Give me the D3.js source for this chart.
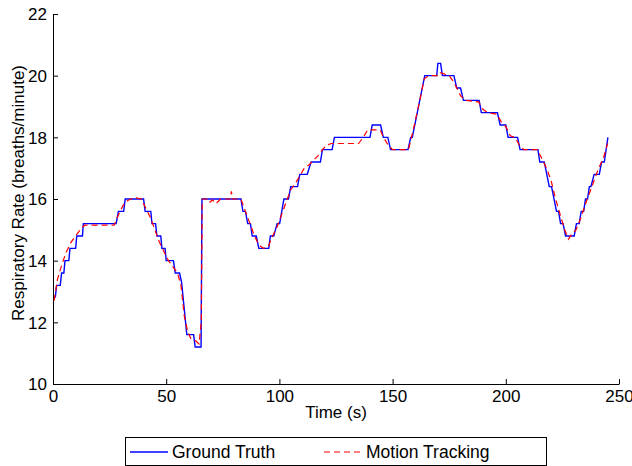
<!DOCTYPE html>
<html>
<head>
<meta charset="utf-8">
<script src="https://cdn.jsdelivr.net/npm/d3@7"></script>
<style>
  body { margin: 0; background: #fff; }
  text { font-family: "Liberation Sans", Arial, sans-serif; }
</style>
</head>
<body>
<div id="container"></div>
<script>
// ground truth: [time, rate]
var groundTruth = [
  [1, 12.8], [1.6, 13.2], [3.2, 13.2], [3.8, 13.6], [4.8, 13.6], [5.3, 14.0], [7, 14.0],
  [7.5, 14.4], [10, 14.4], [10.5, 14.8], [13, 14.8], [13.4, 15.2], [27.9, 15.2], [28.9, 15.6],
  [31.2, 15.6], [31.9, 16.0], [40, 16.0], [40.7, 15.6], [43.2, 15.6], [43.7, 15.2], [45.3, 15.2],
  [45.9, 14.8], [47.6, 14.8], [48.1, 14.4], [49.5, 14.4], [50, 14.0], [53.2, 14.0], [54, 13.6],
  [55.9, 13.6], [56.8, 13.3], [59.1, 11.6], [62.1, 11.6], [62.8, 11.2], [65.4, 11.2], [65.8, 16.0],
  [83, 16.0], [83.9, 15.6], [85, 15.6], [86, 15.2], [87.2, 15.2], [88, 14.8], [89.8, 14.8],
  [90.9, 14.4], [95.3, 14.4], [96, 14.8], [97.5, 14.8], [99, 15.2], [100.1, 15.2], [102, 16.0],
  [104, 16.0], [105, 16.4], [108, 16.4], [109, 16.8], [112.3, 16.8], [114, 17.2], [118.1, 17.2],
  [119, 17.6], [123.3, 17.6], [124.3, 18.0], [140, 18.0], [141, 18.4], [144.7, 18.4], [145.9, 18.0],
  [147.9, 18.0], [149.1, 17.6], [156.8, 17.6], [158, 18.0], [158.7, 18.0], [164.2, 20.0],
  [169.5, 20.0], [170, 20.4], [171.2, 20.4], [172, 20.0], [177.1, 20.0], [178.3, 19.6], [180, 19.6],
  [181.3, 19.2], [188.2, 19.2], [189.2, 18.8], [196.3, 18.8], [197.5, 18.4], [200, 18.4], [201, 18.0],
  [205.2, 18.0], [206.3, 17.6], [214.2, 17.6], [215, 17.2], [217, 17.2], [219.2, 16.4], [220.2, 16.4],
  [222.4, 15.6], [223.3, 15.6], [224.2, 15.2], [225.3, 15.2], [226.4, 14.8], [230.2, 14.8],
  [231.2, 15.2], [232.4, 15.2], [233.3, 15.6], [234.4, 15.6], [235.2, 16.0], [236.1, 16.0],
  [236.9, 16.4], [237.6, 16.4], [239, 16.8], [241.3, 16.8], [242.3, 17.2], [243.5, 17.2], [245.1, 18.0]
];

// motion tracking estimate: [time, rate]
var motionTracking = [
  [0.5, 12.7], [2, 13.4], [4, 13.9], [6, 14.3], [8, 14.6], [10, 14.8], [12, 15.0], [14, 15.15],
  [27, 15.15], [29, 15.5], [31, 15.8], [33, 15.95], [36, 16.05], [39, 16.0], [41, 15.7], [43, 15.4],
  [45, 15.0], [47, 14.6], [49, 14.3], [51, 14.0], [53, 13.8], [55, 13.6], [56.5, 13.2], [58, 12.2],
  [59.5, 11.7], [61, 11.45], [63, 11.4], [64.5, 11.3], [65.5, 12.0], [65.9, 16.0], [68, 16.0],
  [69, 15.88], [70.5, 15.97], [72, 15.85], [74, 16.0], [78.3, 16.0], [78.8, 16.25], [79.3, 16.0],
  [83, 16.0], [85, 15.6], [87, 15.2], [89, 14.8], [91, 14.5], [93, 14.4], [95, 14.45], [97, 14.8],
  [99, 15.1], [101, 15.5], [103, 15.9], [105, 16.3], [107, 16.5], [109, 16.75], [111, 17.0],
  [113, 17.1], [115, 17.25], [117, 17.4], [119, 17.6], [121, 17.75], [123, 17.8], [135, 17.8],
  [137, 18.0], [139, 18.24], [144.5, 18.24], [146, 18.0], [148, 17.75], [150, 17.6], [157, 17.6],
  [159, 18.2], [162, 19.2], [164, 19.9], [166, 20.0], [170, 20.0], [171, 20.1], [173, 20.05],
  [175, 20.0], [176.5, 19.85], [178, 19.65], [180, 19.35], [182, 19.2], [188, 19.15], [190, 18.9],
  [192, 18.8], [196, 18.75], [198, 18.5], [200, 18.35], [202, 18.05], [204, 18.0], [206, 17.75],
  [208, 17.6], [214, 17.6], [216, 17.3], [218, 17.0], [220, 16.6], [222, 16.0], [224, 15.5],
  [226, 15.0], [227.7, 14.7], [229, 14.85], [231, 15.0], [233, 15.35], [235, 15.8], [237, 16.2],
  [239, 16.6], [241, 17.0], [243, 17.3], [245, 17.8]
];

var xTicks = [0, 50, 100, 150, 200, 250];
var yTicks = [10, 12, 14, 16, 18, 20, 22];
var seriesNames = ["Ground Truth", "Motion Tracking"];

var W = 632, H = 466;
var plotL = 53, plotR = 619, plotT = 14, plotB = 384;
var fontSize = "17px";

var svg = d3.select("#container").append("svg")
  .attr("width", W).attr("height", H);

var x = d3.scaleLinear().domain([0, 250]).range([plotL, plotR]);
var y = d3.scaleLinear().domain([10, 22]).range([plotB, plotT]);

// axes, ticks pointing inward like matlab
var xAxis = svg.append("g")
  .attr("transform", "translate(0," + plotB + ")")
  .call(d3.axisBottom(x).tickValues(xTicks).tickSizeInner(-5).tickSizeOuter(0).tickPadding(9));
var yAxis = svg.append("g")
  .attr("transform", "translate(" + plotL + ",0)")
  .call(d3.axisLeft(y).tickValues(yTicks).tickSizeInner(-5).tickSizeOuter(0).tickPadding(6));

[xAxis, yAxis].forEach(function (g) {
  g.select(".domain").attr("stroke", "#000").attr("stroke-width", 1);
  g.selectAll(".tick line").attr("stroke", "#000");
  g.selectAll("text").attr("fill", "#000").style("font-size", fontSize)
    .style("font-family", "'Liberation Sans', Arial, sans-serif");
});
xAxis.selectAll("text").attr("dy", "0.5em");
yAxis.selectAll("text").attr("dy", "0.35em");

// lines
var line = d3.line().x((d) => x(d[0])).y((d) => y(d[1]));

svg.append("path")
  .datum(groundTruth)
  .attr("d", line)
  .attr("fill", "none")
  .attr("stroke", "#0000ff")
  .attr("stroke-width", 1.4);

svg.append("path")
  .datum(motionTracking)
  .attr("d", line)
  .attr("fill", "none")
  .attr("stroke", "#ff0000")
  .attr("stroke-width", 1.2)
  .attr("stroke-dasharray", "6,4");

// axis titles
svg.append("text")
  .attr("x", (plotL + plotR) / 2).attr("y", 418)
  .attr("text-anchor", "middle")
  .style("font-size", fontSize)
  .text("Time (s)");

svg.append("text")
  .attr("transform", "translate(24,193) rotate(-90)")
  .attr("text-anchor", "middle")
  .style("font-size", fontSize)
  .text("Respiratory Rate (breaths/minute)");

// legend
var lg = svg.append("g");
lg.append("rect")
  .attr("x", 125.5).attr("y", 437.5).attr("width", 421).attr("height", 28)
  .attr("fill", "#fff").attr("stroke", "#000");

var items = lg.selectAll("g.item")
  .data(seriesNames)
  .enter()
  .append("g")
  .attr("class", "item")
  .attr("transform", (d, i) => "translate(" + (i === 0 ? 130 : 324) + ",452)");

items.append("line")
  .attr("x1", 0).attr("x2", 38).attr("y1", 0).attr("y2", 0)
  .attr("stroke", (d, i) => i === 0 ? "#0000ff" : "#ff0000")
  .attr("stroke-width", (d, i) => i === 0 ? 1.4 : 1.2)
  .attr("stroke-dasharray", (d, i) => i === 0 ? null : "6,4");

items.append("text")
  .attr("x", 42).attr("y", 0).attr("dy", "0.35em")
  .style("font-size", "17.5px")
  .text((d) => d);
</script>
</body>
</html>
